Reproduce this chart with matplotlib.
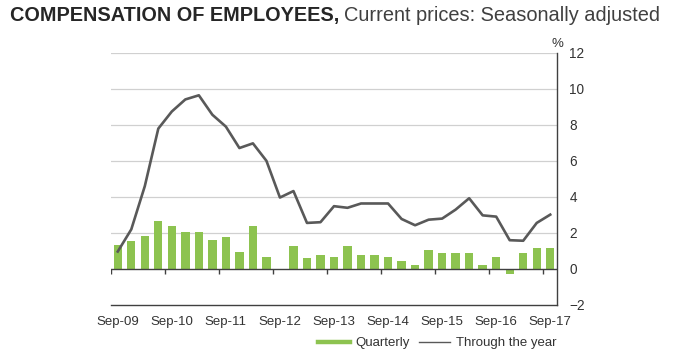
import matplotlib.pyplot as plt
import numpy as np
from matplotlib.lines import Line2D

plt.rcParams['font.family'] = ['Liberation Sans', 'DejaVu Sans']

# Quarterly data, Sep-09 to Sep-17
tick_labels = ['Sep-09', 'Sep-10', 'Sep-11', 'Sep-12', 'Sep-13',
               'Sep-14', 'Sep-15', 'Sep-16', 'Sep-17']
quarterly = [1.35, 1.57, 1.85, 2.69, 2.41, 2.06, 2.06, 1.63, 1.78, 0.93, 2.41,
             0.64, -0.05, 1.29, 0.60, 0.80, 0.65, 1.29, 0.80, 0.80, 0.65, 0.45,
             0.24, 1.08, 0.88, 0.88, 0.88, 0.22, 0.65, -0.28, 0.88, 1.16, 1.16]
through_year = [0.97, 2.2, 4.6, 7.8, 8.75, 9.42, 9.65, 8.57, 7.91, 6.72, 6.98,
                6.01, 3.97, 4.33, 2.56, 2.6, 3.49, 3.4, 3.64, 3.64, 3.64, 2.78,
                2.43, 2.74, 2.8, 3.3, 3.93, 2.98, 2.91, 1.6, 1.57, 2.56, 3.02]
y_ticks = [-2, 0, 2, 4, 6, 8, 10, 12]

GREEN = '#8DC350'
LINE = '#595959'


def main():
    fig = plt.figure(figsize=(6.82, 3.63), dpi=100)
    ax = fig.add_axes([111 / 682, 58 / 363, 446 / 682, 252 / 363])

    x = np.arange(len(quarterly))
    ax.bar(x, quarterly, width=0.62, color=GREEN, zorder=2)
    ax.plot(x, through_year, color=LINE, linewidth=1.9, zorder=3)

    ax.set_xlim(-0.5, len(quarterly) - 0.5)
    ax.set_ylim(-2, 12)

    # gridlines and zero axis
    for v in y_ticks[2:]:
        ax.axhline(v, color='#D0D0D0', linewidth=0.9, zorder=1)
    ax.axhline(0, color='#404040', linewidth=1.0, zorder=4)
    bounds = np.arange(-0.5, len(quarterly), 4)
    ax.vlines(bounds, -0.25, 0, color='#404040', linewidth=1.0, zorder=4)

    # spines
    for s in ['left', 'top']:
        ax.spines[s].set_visible(False)
    for s in ['right', 'bottom']:
        ax.spines[s].set_color('#404040')
        ax.spines[s].set_linewidth(1.0)

    # axes ticks
    ax.yaxis.tick_right()
    ax.set_yticks(y_ticks)
    ax.tick_params(axis='y', length=0, pad=9, labelsize=9.8, labelcolor='#333333')
    ax.set_xticks(x[::4])
    ax.set_xticklabels(tick_labels)
    ax.tick_params(axis='x', length=0, pad=8, labelsize=9.5, labelcolor='#333333')
    ax.text(1.0, 1.036, '%', transform=ax.transAxes, ha='center', va='center',
            fontsize=9.5, color='#333333')

    # legend
    handles = [Line2D([], [], color=GREEN, linewidth=3.2),
               Line2D([], [], color=LINE, linewidth=1.0)]
    fig.legend(handles, ['Quarterly', 'Through the year'], ncol=2,
               frameon=False, loc='center', bbox_to_anchor=(437 / 682, 1 - 343 / 363),
               fontsize=9.5, handlelength=2.4, handletextpad=0.4,
               columnspacing=0.7, labelcolor='#333333')

    # title
    t1 = fig.text(10 / 682, 1 - 21 / 363, 'COMPENSATION OF EMPLOYEES,',
                  fontsize=14.3, fontweight='bold', color='#262626', va='baseline')
    fig.canvas.draw()
    bb = t1.get_window_extent()
    fig.text((bb.x1 + 5) / 682, 1 - 21 / 363, 'Current prices: Seasonally adjusted',
             fontsize=14.4, color='#404040', va='baseline')

    fig.savefig('out.png', dpi=100)


if __name__ == "__main__":
    main()
